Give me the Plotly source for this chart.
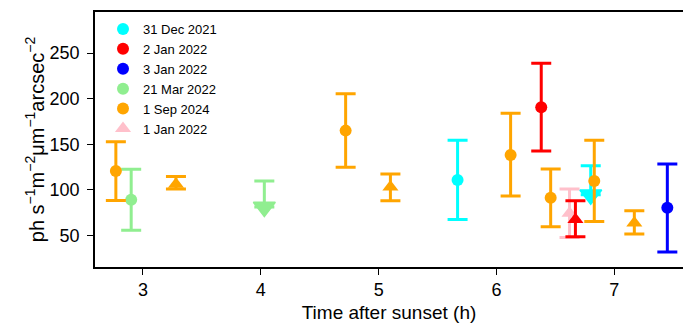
import plotly.graph_objects as go

# ---- data ----
# 31 Dec 2021 (cyan)
dec31_x = [5.67]
dec31_y = [110.6]
dec31_hi = [154.3]
dec31_lo = [67.3]
dec31_lim_x = [6.80]
dec31_lim_y = [94.5]
dec31_lim_hi = [126.3]

# 2 Jan 2022 (red)
jan2_x = [6.38]
jan2_y = [190.6]
jan2_hi = [239.0]
jan2_lo = [142.5]
jan2_tri_x = [6.67]
jan2_tri_y = [67.3]
jan2_tri_hi = [87.8]
jan2_tri_lo = [48.2]

# 3 Jan 2022 (blue)
jan3_x = [7.45]
jan3_y = [80.1]
jan3_hi = [128.2]
jan3_lo = [31.6]

# 21 Mar 2022 (green)
mar21_x = [2.90]
mar21_y = [88.9]
mar21_hi = [122.4]
mar21_lo = [55.5]
mar21_lim_x = [4.03]
mar21_lim_y = [81.0]
mar21_lim_hi = [109.5]

# 1 Sep 2024 (orange)
sep1_x = [2.77, 4.72, 6.12, 6.46, 6.83]
sep1_y = [120.5, 164.9, 138.1, 91.1, 109.5]
sep1_hi = [152.7, 205.3, 184.0, 122.7, 154.3]
sep1_lo = [88.2, 124.6, 93.0, 59.2, 65.0]
sep1_tri_x = [3.28, 5.10, 7.17]
sep1_tri_y = [106.0, 102.9, 63.5]
sep1_tri_hi = [114.6, 117.2, 76.8]
sep1_tri_lo = [100.7, 87.8, 51.4]

# 1 Jan 2022 (pink)
jan1_x = [6.62]
jan1_y = [74.2]
jan1_hi = [100.7]
jan1_lo = [47.4]

x_ticks = [3, 4, 5, 6, 7]
y_ticks = [50, 100, 150, 200, 250]

FONT = "Arial, Liberation Sans, sans-serif"
EB_W = 10
EB_T = 3


def errs(y, hi, lo):
    return [h - v for h, v in zip(hi, y)], [v - l for v, l in zip(y, lo)]


def add(fig, name, x, y, hi, lo, color, symbol, size, showlegend, rank):
    up, dn = errs(y, hi, lo)
    fig.add_trace(go.Scatter(
        x=x, y=y, mode="markers", name=name, legendgroup=name,
        showlegend=showlegend, legendrank=rank,
        marker=dict(color=color, symbol=symbol, size=size, line=dict(width=0)),
        error_y=dict(type="data", symmetric=False, array=up, arrayminus=dn,
                     color=color, thickness=EB_T, width=EB_W),
    ))


def add_lim(fig, name, x, y, hi, color, rank):
    up = [h - v for h, v in zip(hi, y)]
    fig.add_trace(go.Scatter(
        x=x, y=y, mode="markers", name=name, legendgroup=name,
        showlegend=False, legendrank=rank,
        marker=dict(color=color, symbol="triangle-down", size=19,
                    line=dict(width=1.5, color=color)),
        error_y=dict(type="data", symmetric=False, array=up,
                     arrayminus=[0] * len(x),
                     color=color, thickness=EB_T, width=EB_W),
    ))


fig = go.Figure()
add(fig, "21 Mar 2022", mar21_x, mar21_y, mar21_hi, mar21_lo, "#90EE90", "circle", 12, True, 4)
add_lim(fig, "21 Mar 2022", mar21_lim_x, mar21_lim_y, mar21_lim_hi, "#90EE90", 4)
add(fig, "31 Dec 2021", dec31_x, dec31_y, dec31_hi, dec31_lo, "#00FFFF", "circle", 12, True, 1)
add_lim(fig, "31 Dec 2021", dec31_lim_x, dec31_lim_y, dec31_lim_hi, "#00FFFF", 1)
add(fig, "1 Jan 2022", jan1_x, jan1_y, jan1_hi, jan1_lo, "#FFC0CB", "triangle-up", 14, True, 6)
add(fig, "2 Jan 2022", jan2_x, jan2_y, jan2_hi, jan2_lo, "#FF0000", "circle", 12, True, 2)
add(fig, "2 Jan 2022", jan2_tri_x, jan2_tri_y, jan2_tri_hi, jan2_tri_lo, "#FF0000", "triangle-up", 14, False, 2)
add(fig, "3 Jan 2022", jan3_x, jan3_y, jan3_hi, jan3_lo, "#0000FF", "circle", 12, True, 3)
add(fig, "1 Sep 2024", sep1_x, sep1_y, sep1_hi, sep1_lo, "#FFA500", "circle", 12, True, 5)
add(fig, "1 Sep 2024", sep1_tri_x, sep1_tri_y, sep1_tri_hi, sep1_tri_lo, "#FFA500", "triangle-up", 14, False, 5)

fig.update_layout(
    width=683, height=327,
    margin=dict(l=95, r=0, t=12, b=60, autoexpand=False),
    paper_bgcolor="white", plot_bgcolor="white",
    font=dict(family=FONT, size=18, color="black"),
    showlegend=True,
    legend=dict(
        x=8 / 588, y=1 - 2 / 255, xref="paper", yref="paper",
        xanchor="left", yanchor="top",
        bgcolor="rgba(0,0,0,0)", borderwidth=0,
        font=dict(size=13, family=FONT),
        itemsizing="trace", traceorder="normal",
    ),
    xaxis=dict(
        range=[2.593, 7.583], tickvals=x_ticks, ticktext=[str(v) for v in x_ticks],
        showgrid=False, zeroline=False, automargin=False,
        showline=True, linecolor="black", linewidth=1.5, mirror=True,
        ticks="outside", ticklen=6, tickwidth=1.2, tickcolor="black",
        tickfont=dict(size=18),
        title=dict(text="Time after sunset (h)", font=dict(size=19), standoff=6),
    ),
    yaxis=dict(
        range=[15.1, 295.2], tickvals=y_ticks, ticktext=[str(v) for v in y_ticks],
        showgrid=False, zeroline=False, automargin=False,
        showline=True, linecolor="black", linewidth=1.5, mirror=False,
        ticks="outside", ticklen=6, tickwidth=1.2, tickcolor="black",
        tickfont=dict(size=18), ticklabelstandoff=4,
        title=dict(text="ph s<sup>−1</sup>m<sup>−2</sup>μm<sup>−1</sup>arcsec<sup>−2</sup>",
                   font=dict(size=20), standoff=0),
    ),
)

fig.write_html("out.html")
